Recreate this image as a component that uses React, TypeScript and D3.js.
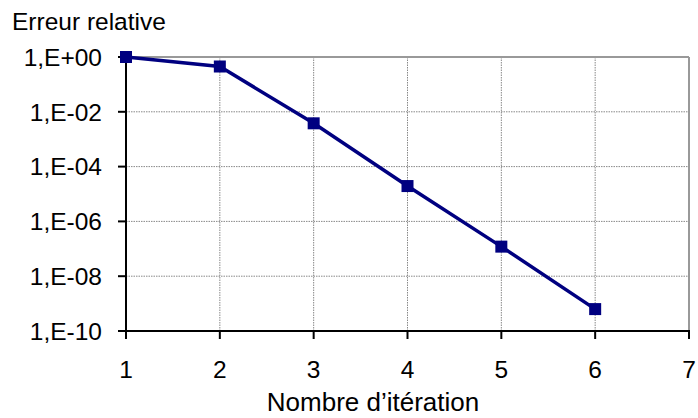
import React from "react";
import * as d3 from "d3";

const iterations = [1, 2, 3, 4, 5, 6];
const errors = [1, 0.45, 3.8e-3, 1.95e-5, 1.2e-7, 6.3e-10];
const xTicks = [1, 2, 3, 4, 5, 6, 7];
const yTicks = [1, 1e-2, 1e-4, 1e-6, 1e-8, 1e-10];
const yTickLabels = ["1,E+00", "1,E-02", "1,E-04", "1,E-06", "1,E-08", "1,E-10"];
const yTitle = "Erreur relative";
const xTitle = "Nombre d\u2019itération";

const W = 698;
const H = 418;
const left = 126;
const right = 689;
const top = 57;
const bottom = 331;
const font = "'Liberation Sans', Arial, sans-serif";

export default function App() {
  const x = d3.scaleLinear().domain([1, 7]).range([left, right]);
  const y = d3.scaleLog().domain([1e-10, 1]).range([bottom, top]);
  const line = d3
    .line<number>()
    .x((_, i) => x(iterations[i]))
    .y((d) => y(d));
  const fs = 24.5;
  const ms = 12;
  return (
    <svg
      width={W}
      height={H}
      style={{ position: "absolute", left: 0, top: 0, background: "#fff" }}
      fontFamily={font}
    >
      <rect x={0} y={0} width={W} height={H} fill="#fff" />
      {/* grid */}
      {xTicks.slice(1, -1).map((t) => (
        <line key={"gx" + t} x1={x(t)} x2={x(t)} y1={top} y2={bottom} stroke="#888" strokeWidth={1} strokeDasharray="1.5,1" />
      ))}
      {yTicks.slice(1, -1).map((t) => (
        <line key={"gy" + t} x1={left} x2={right} y1={y(t)} y2={y(t)} stroke="#888" strokeWidth={1} strokeDasharray="1.5,1" />
      ))}
      {/* frame top/right */}
      <line x1={left} x2={right} y1={top} y2={top} stroke="#999" strokeWidth={2} />
      <line x1={right} x2={right} y1={top} y2={bottom} stroke="#999" strokeWidth={2} />
      {/* axes */}
      <line x1={left} x2={left} y1={top} y2={bottom + 1} stroke="#000" strokeWidth={2} />
      <line x1={left - 1} x2={right + 1} y1={bottom} y2={bottom} stroke="#000" strokeWidth={2} />
      {yTicks.map((t, i) => (
        <g key={"yt" + i}>
          <line x1={left - 8} x2={left} y1={y(t)} y2={y(t)} stroke="#000" strokeWidth={2} />
          <text x={102} y={y(t)} dy="0.36em" textAnchor="end" fontSize={fs} fill="#000">
            {yTickLabels[i]}
          </text>
        </g>
      ))}
      {xTicks.map((t) => (
        <g key={"xt" + t}>
          <line x1={x(t)} x2={x(t)} y1={bottom} y2={bottom + 8} stroke="#000" strokeWidth={2} />
          <text x={x(t)} y={378} textAnchor="middle" fontSize={fs} fill="#000">
            {t}
          </text>
        </g>
      ))}
      <text x={12} y={30} fontSize={24.5} fill="#000">
        {yTitle}
      </text>
      <text x={373} y={411} textAnchor="middle" fontSize={26} fill="#000">
        {xTitle}
      </text>
      {/* series */}
      <path d={line(errors) || ""} fill="none" stroke="#000080" strokeWidth={3.5} />
      {errors.map((d, i) => (
        <rect key={"m" + i} x={x(iterations[i]) - ms / 2} y={y(d) - ms / 2} width={ms} height={ms} fill="#000080" />
      ))}
    </svg>
  );
}
